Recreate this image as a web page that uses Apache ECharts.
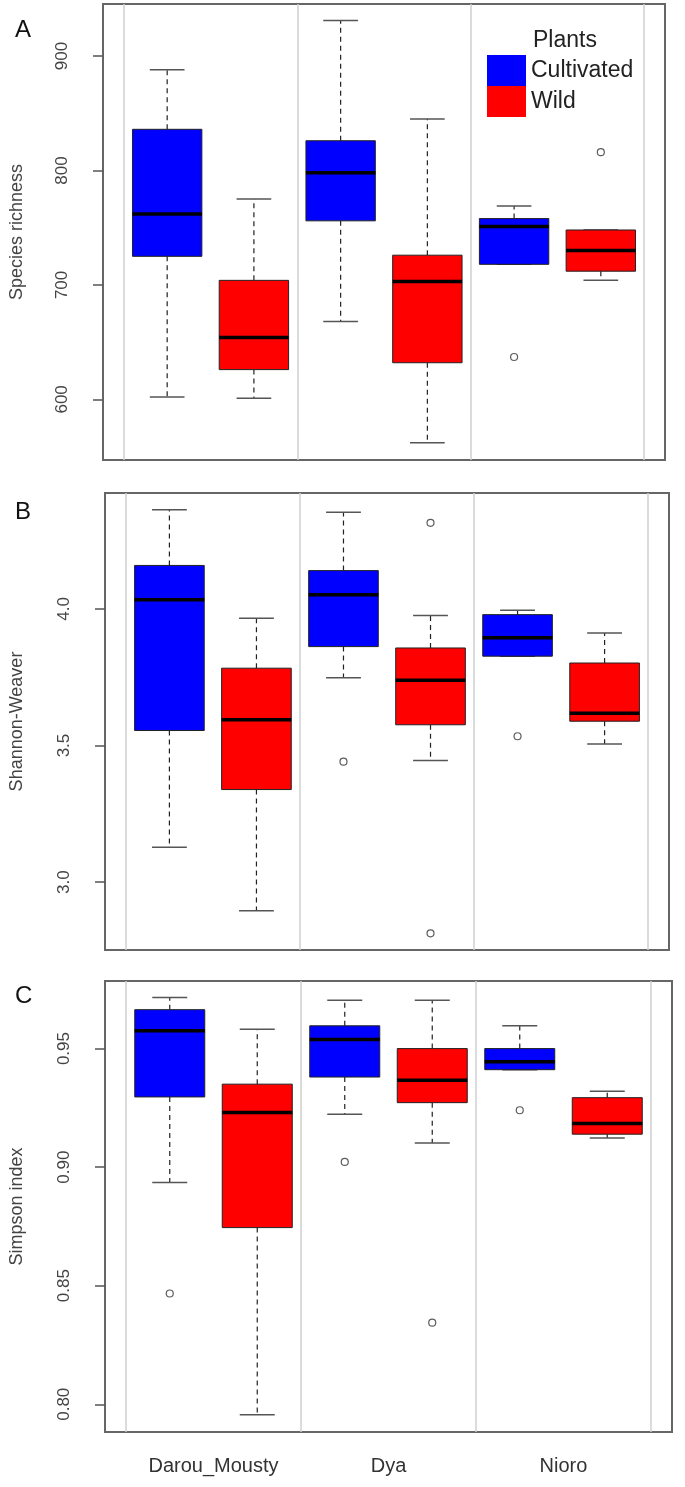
<!DOCTYPE html>
<html><head><meta charset="utf-8">
<script src="https://cdn.jsdelivr.net/npm/echarts@6/dist/echarts.min.js"></script>
<style>html,body{margin:0;padding:0;background:#fff}#c{width:685px;height:1487px}</style>
</head><body><div id="c"></div>
<script>
// ---------- data ----------
const sites = ['Darou_Mousty', 'Dya', 'Nioro'];
const plants = ['Cultivated', 'Wild'];
const panelLetters = ['A', 'B', 'C'];
const metricNames = ['Species richness', 'Shannon-Weaver', 'Simpson index'];

// per site: [lower whisker, Q1, median, Q3, upper whisker]
const richnessCultivated = [[602, 725, 762, 836, 888], [668, 756, 798, 826, 931], [718, 718, 751, 758, 769]];
const richnessWild       = [[601, 626, 654, 704, 775], [562, 632, 703, 726, 845], [704, 712, 730, 748, 748]];
const richnessCultivatedOutliers = [[], [], [637]];
const richnessWildOutliers       = [[], [], [816]];

const shannonCultivated = [[3.128, 3.555, 4.033, 4.159, 4.363], [3.748, 3.862, 4.052, 4.140, 4.354], [3.827, 3.827, 3.894, 3.979, 3.995]];
const shannonWild       = [[2.896, 3.339, 3.594, 3.783, 3.966], [3.445, 3.576, 3.739, 3.857, 3.976], [3.506, 3.589, 3.618, 3.802, 3.912]];
const shannonCultivatedOutliers = [[], [3.441], [3.534]];
const shannonWildOutliers       = [[], [4.315, 2.813], []];

const simpsonCultivated = [[0.8935, 0.9296, 0.9575, 0.9664, 0.9715], [0.9223, 0.9380, 0.9538, 0.9596, 0.9704], [0.9411, 0.9411, 0.9444, 0.9500, 0.9596]];
const simpsonWild       = [[0.7956, 0.8745, 0.9230, 0.9350, 0.9582], [0.9102, 0.9272, 0.9366, 0.9500, 0.9704], [0.9123, 0.9139, 0.9184, 0.9293, 0.9320]];
const simpsonCultivatedOutliers = [[0.8467], [0.9022], [0.9240]];
const simpsonWildOutliers       = [[], [0.8344], []];

const richnessTicks = [600, 700, 800, 900];
const shannonTicks  = [3.0, 3.5, 4.0];
const simpsonTicks  = [0.80, 0.85, 0.90, 0.95];

// ---------- layout / style ----------
const plantColors = ['#0000ff', '#ff0000'];
const FONT = '"Liberation Sans", Arial, sans-serif';
const panels = [
  { stats: [richnessCultivated, richnessWild], outl: [richnessCultivatedOutliers, richnessWildOutliers], ticks: richnessTicks, digits: 0, range: [547, 945.5],
    grid: { left: 103, top: 4, width: 562, height: 456 }, letterTop: 13, nameGap: 77 },
  { stats: [shannonCultivated, shannonWild], outl: [shannonCultivatedOutliers, shannonWildOutliers], ticks: shannonTicks, digits: 1, range: [2.752, 4.424],
    grid: { left: 105, top: 493, width: 564, height: 457 }, letterTop: 495, nameGap: 79 },
  { stats: [simpsonCultivated, simpsonWild], outl: [simpsonCultivatedOutliers, simpsonWildOutliers], ticks: simpsonTicks, digits: 2, range: [0.7883, 0.9785],
    grid: { left: 105, top: 981, width: 567, height: 451 }, letterTop: 979, nameGap: 79 }
];
const groupEdges = [0.5, 2.5, 4.5, 6.5];

function boxRender(params, api) {
  const x = api.value(0);
  const lo = api.coord([x, api.value(1)]);
  const q1 = api.coord([x, api.value(2)]);
  const md = api.coord([x, api.value(3)]);
  const q3 = api.coord([x, api.value(4)]);
  const hi = api.coord([x, api.value(5)]);
  const hb = api.size([0.8, 0])[0] / 2;
  const hc = api.size([0.4, 0])[0] / 2;
  const cx = md[0];
  const dash = { stroke: '#222', lineWidth: 1.2, lineDash: [5, 4] };
  const cap = { stroke: '#555', lineWidth: 1.5 };
  return {
    type: 'group',
    children: [
      { type: 'line', shape: { x1: cx, y1: q3[1], x2: cx, y2: hi[1] }, style: dash },
      { type: 'line', shape: { x1: cx, y1: q1[1], x2: cx, y2: lo[1] }, style: dash },
      { type: 'line', shape: { x1: cx - hc, y1: hi[1], x2: cx + hc, y2: hi[1] }, style: cap },
      { type: 'line', shape: { x1: cx - hc, y1: lo[1], x2: cx + hc, y2: lo[1] }, style: cap },
      { type: 'rect', shape: { x: cx - hb, y: q3[1], width: 2 * hb, height: q1[1] - q3[1] },
        style: { fill: api.visual('color'), stroke: '#222', lineWidth: 1 } },
      { type: 'line', shape: { x1: cx - hb, y1: md[1], x2: cx + hb, y2: md[1] }, style: { stroke: '#000', lineWidth: 3.5 } }
    ]
  };
}

const series = [];
panels.forEach((p, k) => {
  plants.forEach((pl, j) => {
    series.push({
      type: 'custom', name: pl, xAxisIndex: k, yAxisIndex: k,
      itemStyle: { color: plantColors[j] },
      renderItem: boxRender,
      encode: { x: 0, y: [1, 2, 3, 4, 5] },
      data: sites.map((s, i) => [2 * i + 1 + j].concat(p.stats[j][i])),
      markLine: j === 0 ? {
        silent: true, symbol: ['none', 'none'], label: { show: false },
        lineStyle: { color: '#cfcfcf', width: 1.5, type: 'solid' },
        data: groupEdges.map(v => ({ xAxis: v }))
      } : undefined,
      z: 3
    });
    const pts = [];
    sites.forEach((s, i) => p.outl[j][i].forEach(v => pts.push([2 * i + 1 + j, v])));
    series.push({
      type: 'scatter', name: 'out-' + k + '-' + j, xAxisIndex: k, yAxisIndex: k,
      symbol: 'circle', symbolSize: 7,
      itemStyle: { color: 'rgba(0,0,0,0)', borderColor: '#333', borderWidth: 1.2 },
      data: pts, z: 4
    });
  });
});

const option = {
  animation: false,
  backgroundColor: '#fff',
  textStyle: { fontFamily: FONT },
  title: panelLetters.map((L, k) => ({
    text: L, left: 10, top: panels[k].letterTop,
    textStyle: { fontSize: 24, fontWeight: 'normal', color: '#111', fontFamily: FONT }
  })).concat([{
    text: 'Plants', left: 533, top: 29, padding: 0,
    textStyle: { fontSize: 23, fontWeight: 'normal', color: '#222', fontFamily: FONT }
  }]),
  legend: {
    data: plants.map(n => ({ name: n, icon: 'rect' })),
    orient: 'vertical', left: 487, top: 55, padding: 0,
    itemWidth: 39, itemHeight: 31, itemGap: 0, selectedMode: false,
    textStyle: { fontSize: 23, color: '#222', fontFamily: FONT, padding: [8, 0, 0, 0] }
  },
  grid: panels.map(p => Object.assign({ show: true, borderColor: '#666', borderWidth: 2, backgroundColor: '#fff' }, p.grid)),
  xAxis: panels.map((p, k) => ({
    gridIndex: k, type: 'value', min: 0.26, max: 6.74,
    axisLine: { show: false }, axisTick: { show: false }, splitLine: { show: false },
    axisLabel: k === 2 ? {
      show: true, customValues: [1.5, 3.5, 5.5],
      formatter: v => sites[Math.round((v - 1.5) / 2)],
      fontSize: 20, color: '#333', margin: 24, fontFamily: FONT
    } : { show: false }
  })),
  yAxis: panels.map((p, k) => ({
    gridIndex: k, type: 'value', min: p.range[0], max: p.range[1],
    name: metricNames[k], nameLocation: 'middle', nameRotate: 90, nameGap: p.nameGap,
    nameTextStyle: { fontSize: 18, color: '#444', fontFamily: FONT },
    axisLine: { show: true, lineStyle: { color: '#666', width: 2 } },
    axisTick: { show: true, length: 10, customValues: p.ticks, lineStyle: { color: '#555', width: 1.5 } },
    axisLabel: { customValues: p.ticks, rotate: 90, margin: 32, fontSize: 17, color: '#444', fontFamily: FONT,
      formatter: v => Number(v).toFixed(p.digits) },
    splitLine: { show: false }
  })),
  series: series
};
const chart = echarts.init(document.getElementById('c'), null, { renderer: 'canvas' });
chart.setOption(option);
</script>
</body></html>
